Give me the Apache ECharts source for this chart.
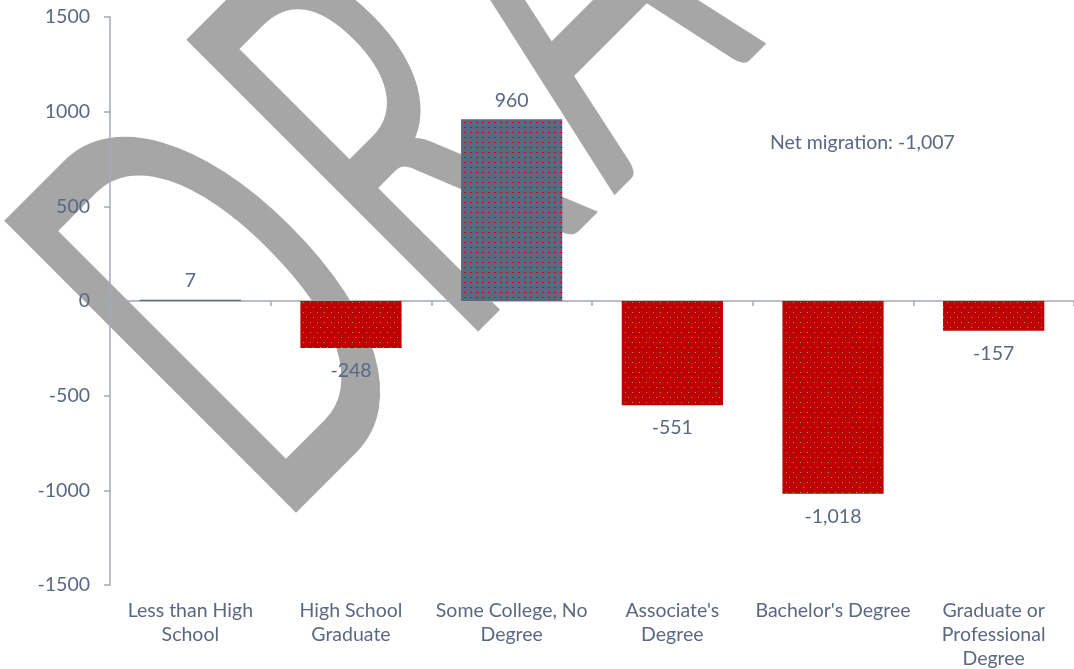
<!DOCTYPE html>
<html><head><meta charset="utf-8">
<script src="https://cdn.jsdelivr.net/npm/echarts@6/dist/echarts.min.js"></script>
<style>html,body{margin:0;padding:0;background:#fff}#c{width:1074px;height:669px}</style>
</head><body><div id="c"></div>
<script>
const categories = ["Less than High\nSchool", "High School\nGraduate", "Some College, No\nDegree", "Associate's\nDegree", "Bachelor's Degree", "Graduate or\nProfessional\nDegree"];
const netMigration = [7, -248, 960, -551, -1018, -157];
const yMin = -1500, yMax = 1500, yStep = 500;
const watermarkText = "DRAFT";
const netLabel = "Net migration: ";

const TEXT = '#5a6881';
const AXIS = '#a3a9b2';
const FONT = 'Lato';
const FS = 19.5;

function makePattern(bg, dot, w, h, dots) {
  const c = document.createElement('canvas');
  c.width = w; c.height = h;
  const g = c.getContext('2d');
  g.fillStyle = bg; g.fillRect(0, 0, w, h);
  g.fillStyle = dot;
  dots.forEach(d => g.fillRect(d[0], d[1], d[2], d[3]));
  return { image: c, repeat: 'repeat' };
}
const redFill = makePattern('#c00000', '#8a8f9f', 7, 10, [[2, 2, 1, 1], [5, 7, 1, 1]]);
const blueFill = makePattern('#5a6882', '#e00000', 6, 5, [[2, 2, 2, 1]]);

const fmt = v => v.toLocaleString('en-US');
const total = netMigration.reduce((a, b) => a + b, 0);

// watermark letter centres (screen px), rotated 45 deg
const wmPos = [[230, 316], [397, 150], [559, -12], [722, -175], [886, -338]];

const chart = echarts.init(document.getElementById('c'), null, { renderer: 'canvas' });
chart.setOption({
  animation: false,
  backgroundColor: '#ffffff',
  grid: { left: 110, right: 0, top: 17, bottom: 84, containLabel: false, outerBoundsMode: 'none' },
  xAxis: [
    {
      type: 'category', data: categories, position: 'bottom',
      axisLine: { show: false, onZero: false }, axisTick: { show: false },
      axisLabel: { interval: 0, color: TEXT, fontFamily: FONT, fontSize: FS, lineHeight: 24, margin: 14 }
    },
    {
      type: 'category', data: categories, position: 'bottom',
      axisLine: { show: true, onZero: true, lineStyle: { color: AXIS, width: 1.5 } },
      axisTick: { show: true, length: 5, lineStyle: { color: AXIS, width: 1.5 } },
      axisLabel: { show: false }
    }
  ],
  yAxis: {
    type: 'value', min: yMin, max: yMax, interval: yStep,
    axisLine: { show: true, lineStyle: { color: AXIS, width: 1.5 } },
    axisTick: { show: true, length: 6, lineStyle: { color: AXIS, width: 1.5 } },
    splitLine: { show: false },
    axisLabel: { color: TEXT, fontFamily: FONT, fontSize: FS, margin: 20, formatter: v => String(v) }
  },
  series: [{
    type: 'bar', xAxisIndex: 0, barWidth: '63%',
    data: netMigration.map(v => ({
      value: v,
      itemStyle: { color: v >= 0 ? blueFill : redFill },
      label: v >= 0 ? { position: 'top', distance: 8.5 } : { position: 'bottom', distance: 12.5 }
    })),
    label: {
      show: true, color: TEXT, fontFamily: FONT, fontSize: FS,
      formatter: p => fmt(p.value)
    }
  }],
  graphic: [
    ...watermarkText.split('').map((ch, i) => ({
      type: 'text', x: wmPos[i][0], y: wmPos[i][1], rotation: Math.PI / 4,
      scaleX: 1, scaleY: 1.8, z: -10, silent: true,
      style: { text: ch, font: '320px Lato', fill: '#a6a6a6', align: 'center', textAlign: 'center', verticalAlign: 'middle', textVerticalAlign: 'middle' }
    })),
    {
      type: 'text', x: 770, y: 143, z: 10,
      style: { text: netLabel + fmt(total), font: FS + 'px Lato', fill: TEXT, align: 'left', textAlign: 'left', verticalAlign: 'middle', textVerticalAlign: 'middle' }
    }
  ]
});
</script></body></html>
